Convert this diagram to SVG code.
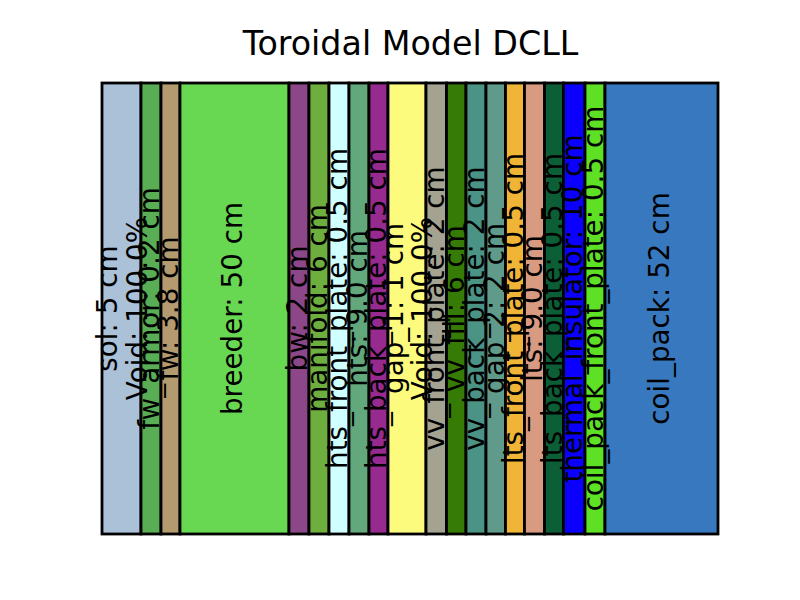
<svg xmlns="http://www.w3.org/2000/svg" width="800" height="600" viewBox="0 0 800 600">
<style>
.layer{stroke:#000;stroke-width:2.8;stroke-linejoin:miter}
.lbl{font-family:"DejaVu Sans",sans-serif;font-size:27.8px;fill:#000;text-anchor:middle}
.title{font-family:"DejaVu Sans",sans-serif;font-size:33.3px;fill:#000;text-anchor:middle}
</style>
<rect width="800" height="600" fill="#fff"/>
<text class="title" x="410.5" y="55">Toroidal Model DCLL</text>
<g id="layers">
<g id="sol"><rect class="layer" x="102" y="83" width="39" height="451" fill="#abc1d8"/></g>
<g id="fw_armor"><rect class="layer" x="141" y="83" width="20" height="451" fill="#58ad55"/></g>
<g id="fw"><rect class="layer" x="161" y="83" width="19" height="451" fill="#b49a6f"/></g>
<g id="breeder"><rect class="layer" x="180" y="83" width="109" height="451" fill="#68d752"/></g>
<g id="bw"><rect class="layer" x="289" y="83" width="20" height="451" fill="#8b4787"/></g>
<g id="manifold"><rect class="layer" x="309" y="83" width="20" height="451" fill="#6eae3e"/></g>
<g id="hts_front_plate"><rect class="layer" x="329" y="83" width="20" height="451" fill="#d0ffff"/></g>
<g id="hts"><rect class="layer" x="349" y="83" width="20" height="451" fill="#62a87c"/></g>
<g id="hts_back_plate"><rect class="layer" x="369" y="83" width="19" height="451" fill="#962a8e"/></g>
<g id="gap_1"><rect class="layer" x="388" y="83" width="38" height="451" fill="#fdfb7e"/></g>
<g id="vv_front_plate"><rect class="layer" x="426" y="83" width="20.5" height="451" fill="#a4a290"/></g>
<g id="vv_fill"><rect class="layer" x="446.5" y="83" width="19.5" height="451" fill="#367b06"/></g>
<g id="vv_back_plate"><rect class="layer" x="466" y="83" width="20" height="451" fill="#4b9385"/></g>
<g id="gap_2"><rect class="layer" x="486" y="83" width="19.5" height="451" fill="#5f9a8a"/></g>
<g id="lts_front_plate"><rect class="layer" x="505.5" y="83" width="19" height="451" fill="#f0b436"/></g>
<g id="lts"><rect class="layer" x="524.5" y="83" width="20" height="451" fill="#d99a82"/></g>
<g id="lts_back_plate"><rect class="layer" x="544.5" y="83" width="19" height="451" fill="#0b5e36"/></g>
<g id="thermal_insulator"><rect class="layer" x="563.5" y="83" width="21.5" height="451" fill="#0a00fb"/></g>
<g id="coil_pack_front_plate"><rect class="layer" x="585" y="83" width="20" height="451" fill="#5ee125"/></g>
<g id="coil_pack"><rect class="layer" x="605" y="83" width="113" height="451" fill="#3878be"/></g>
</g>
<g id="labels">
<text class="lbl" transform="translate(117,308.5) rotate(-90)">sol: 5 cm</text>
<text class="lbl" transform="translate(146.5,308.5) rotate(-90)">Void: 100.0%</text>
<text class="lbl" transform="translate(158.7,308.5) rotate(-90)">fw_armor: 0.2 cm</text>
<text class="lbl" transform="translate(178.2,308.5) rotate(-90)">fw: 3.8 cm</text>
<text class="lbl" transform="translate(242.2,308.5) rotate(-90)">breeder: 50 cm</text>
<text class="lbl" transform="translate(306.7,308.5) rotate(-90)">bw: 2 cm</text>
<text class="lbl" transform="translate(326.7,308.5) rotate(-90)">manifold: 6 cm</text>
<text class="lbl" transform="translate(346.7,308.5) rotate(-90)">hts_front_plate: 0.5 cm</text>
<text class="lbl" transform="translate(366.7,308.5) rotate(-90)">hts: 9.0 cm</text>
<text class="lbl" transform="translate(386.2,308.5) rotate(-90)">hts_back_plate: 0.5 cm</text>
<text class="lbl" transform="translate(403,308.5) rotate(-90)">gap_1: 1 cm</text>
<text class="lbl" transform="translate(432,308.5) rotate(-90)">Void: 100.0%</text>
<text class="lbl" transform="translate(444,308.5) rotate(-90)">vv_front_plate: 2 cm</text>
<text class="lbl" transform="translate(464,308.5) rotate(-90)">vv_fill: 6 cm</text>
<text class="lbl" transform="translate(483.7,308.5) rotate(-90)">vv_back_plate: 2 cm</text>
<text class="lbl" transform="translate(503.5,308.5) rotate(-90)">gap_2: 2 cm</text>
<text class="lbl" transform="translate(522.7,308.5) rotate(-90)">lts_front_plate: 0.5 cm</text>
<text class="lbl" transform="translate(542.2,308.5) rotate(-90)">lts: 9.0 cm</text>
<text class="lbl" transform="translate(561.7,308.5) rotate(-90)">lts_back_plate: 0.5 cm</text>
<text class="lbl" transform="translate(582,308.5) rotate(-90)">thermal_insulator: 10 cm</text>
<text class="lbl" transform="translate(602.7,308.5) rotate(-90)">coil_pack_front_plate: 0.5 cm</text>
<text class="lbl" transform="translate(669.2,308.5) rotate(-90)">coil_pack: 52 cm</text>
</g>
</svg>
